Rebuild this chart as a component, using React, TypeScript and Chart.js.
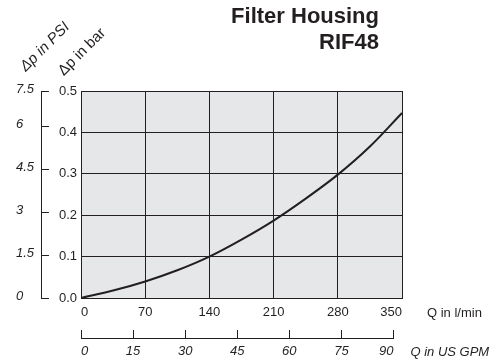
import React, { useEffect, useRef } from "react";
import { Chart, registerables } from "chart.js";

Chart.register(...registerables);

// Flow in l/min and pressure drop in bar
const flowLpm = [0, 35, 70, 105, 140, 175, 210, 245, 280, 315, 350];
const dpBar = [0, 0.018, 0.04, 0.067, 0.1, 0.141, 0.187, 0.24, 0.298, 0.366, 0.447];

const lpmTicks = [0, 70, 140, 210, 280, 350];
const barTicks = [0, 0.1, 0.2, 0.3, 0.4, 0.5];
const psiTickValues = [0, 1.5, 3, 4.5, 6, 7.25];
const psiTickLabels = ["0", "1.5", "3", "4.5", "6", "7.5"];
const gpmTicks = [0, 15, 30, 45, 60, 75, 90];

const titleLines = ["Filter Housing", "RIF48"];
const psiTitle = "Δp in PSI";
const barTitle = "Δp in bar";
const lpmTitle = "Q in l/min";
const gpmTitle = "Q in US GPM";

const LPM_PER_GPM = 3.78541;
const PSI_PER_BAR = 14.5;

const INK = "#231f20";
const FONT = '"Liberation Sans", Arial, Helvetica, sans-serif';

export default function App() {
  const ref = useRef<HTMLCanvasElement | null>(null);

  useEffect(() => {
    const canvas = ref.current;
    if (!canvas) return;

    const extras = {
      id: "extras",
      beforeDraw(chart: any) {
        const { ctx, chartArea } = chart;
        ctx.save();
        ctx.fillStyle = "#e6e7e8";
        ctx.fillRect(chartArea.left, chartArea.top, chartArea.right - chartArea.left, chartArea.bottom - chartArea.top);
        ctx.restore();
      },
      afterLayout(chart: any) {
        const xs = chart.scales.x;
        const g = chart.scales.x2;
        const r = xs.getPixelForValue(gpmTicks[gpmTicks.length - 1] * LPM_PER_GPM);
        g.right = r;
        g.width = r - g.left;
        g.configure();
      },
      afterDraw(chart: any) {
        const { ctx, chartArea } = chart;
        ctx.save();
        ctx.fillStyle = INK;
        // Title
        ctx.font = `bold 22px ${FONT}`;
        ctx.textAlign = "right";
        ctx.textBaseline = "alphabetic";
        ctx.fillText(titleLines[0], 379, 23);
        ctx.fillText(titleLines[1], 379, 49);
        // Rotated axis titles
        ctx.textAlign = "center";
        ctx.textBaseline = "middle";
        ctx.save();
        ctx.translate(45, 47);
        ctx.rotate(-Math.PI / 4);
        ctx.font = `italic 15px ${FONT}`;
        ctx.fillText(psiTitle, 0, 0);
        ctx.restore();
        ctx.save();
        ctx.translate(82, 52);
        ctx.rotate(-Math.PI / 4);
        ctx.font = `15px ${FONT}`;
        ctx.fillText(barTitle, 0, 0);
        ctx.restore();
        // Flow axis titles
        ctx.textAlign = "left";
        ctx.font = `13px ${FONT}`;
        const xs = chart.scales.x;
        const g = chart.scales.x2;
        ctx.fillText(lpmTitle, chartArea.right + 25, xs.top + 15);
        ctx.font = `italic 13px ${FONT}`;
        ctx.fillText(gpmTitle, g.right + 17, g.top + 14);
        ctx.restore();
      },
    };

    const chart = new Chart(canvas, {
      type: "line",
      data: {
        datasets: [
          {
            data: flowLpm.map((q, i) => ({ x: q, y: dpBar[i] })),
            borderColor: INK,
            borderWidth: 2,
            pointRadius: 0,
            fill: false,
            cubicInterpolationMode: "monotone",
            xAxisID: "x",
            yAxisID: "y",
          },
        ],
      },
      options: {
        responsive: false,
        animation: false,
        layout: { padding: { left: 16, top: 91, right: 90, bottom: 0 } },
        plugins: { legend: { display: false }, tooltip: { enabled: false }, title: { display: false } },
        scales: {
          x: {
            type: "linear",
            position: "bottom",
            min: lpmTicks[0],
            max: lpmTicks[lpmTicks.length - 1],
            weight: 0,
            afterBuildTicks: (s: any) => { s.ticks = lpmTicks.map((v) => ({ value: v })); },
            afterFit: (s: any) => { s.height = 40; },
            grid: { color: INK, lineWidth: 1, drawTicks: false },
            border: { display: true, color: INK, width: 1 },
            ticks: { color: INK, font: { family: FONT, size: 13 }, padding: 7, maxRotation: 0, autoSkip: false, align: "inner" },
          },
          x2: {
            type: "linear",
            position: "bottom",
            min: gpmTicks[0],
            max: gpmTicks[gpmTicks.length - 1],
            weight: 1,
            afterBuildTicks: (s: any) => { s.ticks = gpmTicks.map((v) => ({ value: v })); },
            afterFit: (s: any) => { s.height = 26; },
            grid: { color: INK, lineWidth: 1, drawOnChartArea: false, drawTicks: true, tickLength: -8 },
            border: { display: true, color: INK, width: 1 },
            ticks: { color: INK, font: { family: FONT, size: 13, style: "italic" }, padding: 14, maxRotation: 0, autoSkip: false, align: "inner" },
          },
          y: {
            type: "linear",
            position: "left",
            min: barTicks[0],
            max: barTicks[barTicks.length - 1],
            weight: 0,
            afterBuildTicks: (s: any) => { s.ticks = barTicks.map((v) => ({ value: v })); },
            afterFit: (s: any) => { s.width = 40; },
            grid: { color: INK, lineWidth: 1, drawTicks: false },
            border: { display: true, color: INK, width: 1 },
            ticks: {
              color: INK,
              font: { family: FONT, size: 13 },
              padding: 4,
              callback: (v: any) => Number(v).toFixed(1),
            },
          },
          psi: {
            type: "linear",
            position: "left",
            min: 0,
            max: barTicks[barTicks.length - 1] * PSI_PER_BAR,
            weight: 1,
            afterBuildTicks: (s: any) => { s.ticks = psiTickValues.map((v) => ({ value: v })); },
            afterFit: (s: any) => { s.width = 25; },
            grid: { color: INK, lineWidth: 1, drawOnChartArea: false, drawTicks: true, tickLength: -8 },
            border: { display: true, color: INK, width: 1 },
            ticks: {
              color: INK,
              font: { family: FONT, size: 13, style: "italic" },
              crossAlign: "far",
              labelOffset: -2,
              callback: (_v: any, i: number) => psiTickLabels[i],
            },
          },
        },
      },
      plugins: [extras],
    } as any);

    return () => chart.destroy();
  }, []);

  return (
    <div style={{ position: "absolute", left: 0, top: 0, width: 492, height: 364 }}>
      <canvas ref={ref} width={492} height={364} />
    </div>
  );
}
